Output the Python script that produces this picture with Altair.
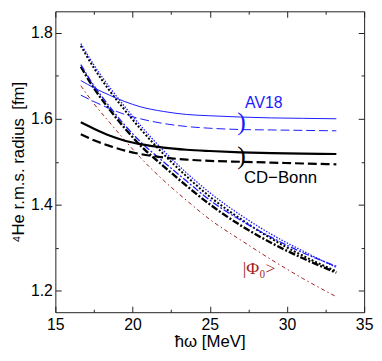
import altair as alt
import pandas as pd

# ---------------- data ----------------
hw = [16.65, 17.5, 18.5, 19.5, 20.5, 22.0, 23.5, 25.0, 27.0, 29.0, 31.0, 33.2]

av18_solid   = [1.689, 1.672, 1.655, 1.640, 1.628, 1.617, 1.610, 1.607, 1.604, 1.602, 1.601, 1.600]
av18_dashed  = [1.655, 1.640, 1.624, 1.610, 1.600, 1.589, 1.582, 1.578, 1.575, 1.574, 1.573, 1.572]
cdb_solid    = [1.592, 1.577, 1.561, 1.549, 1.541, 1.533, 1.528, 1.525, 1.522, 1.520, 1.519, 1.518]
cdb_dashed   = [1.564, 1.550, 1.537, 1.526, 1.518, 1.510, 1.505, 1.502, 1.500, 1.498, 1.496, 1.494]
cdb_dotted   = [1.770, 1.718, 1.666, 1.620, 1.577, 1.518, 1.466, 1.419, 1.367, 1.321, 1.282, 1.245]
av18_dotted  = [1.775, 1.725, 1.674, 1.628, 1.585, 1.526, 1.474, 1.428, 1.376, 1.331, 1.293, 1.254]
cdb_dashdot  = [1.721, 1.671, 1.622, 1.578, 1.538, 1.490, 1.444, 1.401, 1.352, 1.311, 1.276, 1.242]
av18_dashdot = [1.726, 1.677, 1.629, 1.585, 1.547, 1.500, 1.455, 1.411, 1.364, 1.324, 1.289, 1.257]
phi0         = [1.677, 1.635, 1.592, 1.550, 1.510, 1.457, 1.410, 1.366, 1.318, 1.272, 1.229, 1.186]

x_major = [15, 20, 25, 30, 35]
x_all_ticks = [15, 17.5, 20, 22.5, 25, 27.5, 30, 32.5, 35]
y_major = [1.2, 1.4, 1.6, 1.8]
y_all_ticks = [1.2, 1.3, 1.4, 1.5, 1.6, 1.7, 1.8]

labels_text = ["AV18", "CD\u2212Bonn", "|\u03a6\u2080>"]
labels_x = [28.5, 29.58, 28.2]
labels_y = [1.6354, 1.4626, 1.250]

bracket_x = [27.05, 27.05]
bracket_y = [1.592, 1.513]

# ---------------- styles ----------------
BLUE = "#1a1aff"
RED = "#a01c1c"
BLACK = "#000000"
W, H = 313, 305
FONT = "Liberation Sans"

# (values, color, dash, width) in drawing order
series = [
    (phi0, RED, [4, 3, 1.5, 3], 1.0),
    (cdb_dotted, BLACK, [2, 2], 2.0),
    (av18_dotted, BLUE, [1.5, 1.5], 1.3),
    (cdb_dashdot, BLACK, [7, 2, 2, 2], 2.4),
    (av18_dashdot, BLUE, [7, 2, 2, 2], 1.3),
    (cdb_solid, BLACK, None, 2.2),
    (cdb_dashed, BLACK, [9, 4], 2.2),
    (av18_solid, BLUE, None, 1.0),
    (av18_dashed, BLUE, [9, 4], 1.0),
]

xscale = alt.Scale(domain=[15, 35], nice=False, zero=False)
yscale = alt.Scale(domain=[1.15, 1.85], nice=False, zero=False)

x_main = alt.Axis(orient="bottom", values=x_major, ticks=False, tickSize=0, domain=False,
                  grid=False, labelFontSize=16, labelPadding=5, labelFlush=False,
                  labelFont=FONT, labelColor="black", title="\u0127\u03c9 [MeV]",
                  titleFont=FONT, titleFontSize=17, titleFontWeight="normal",
                  titleColor="black", titlePadding=1, format="d")
y_main = alt.Axis(orient="left", values=y_major, ticks=False, tickSize=0, domain=False,
                  grid=False, labelFontSize=16, labelPadding=3, labelFlush=False,
                  labelFont=FONT, labelColor="black", format=".1f",
                  title="\u2074He r.m.s. radius\u2002[fm]", titleFont=FONT,
                  titleFontSize=17, titleFontWeight="normal", titleColor="black",
                  titlePadding=3)

xtick_cond = {"condition": {"test": "datum.value % 5 === 0", "value": 6}, "value": 3}
ytick_cond = {"condition": {"test": "round(datum.value * 10) % 2 === 0", "value": 6}, "value": 3}


def tick_axis(orient, offset, values, cond):
    return alt.Axis(orient=orient, offset=offset, values=values, labels=False, domain=False,
                    grid=False, title="", ticks=True, tickColor="#222222", tickWidth=1,
                    tickSize=cond)


layers = []
for i, (vals, col, dash, wid) in enumerate(series):
    d = pd.DataFrame({"hw": hw, "r": vals})
    kw = dict(interpolate="monotone", color=col, strokeWidth=wid)
    if dash is not None:
        kw["strokeDash"] = dash
    if i == 0:
        xa, ya = x_main, y_main
    else:
        xa, ya = None, None
    layers.append(alt.Chart(d).mark_line(**kw).encode(
        x=alt.X("hw:Q", scale=xscale, axis=xa),
        y=alt.Y("r:Q", scale=yscale, axis=ya),
    ))

lab_df = pd.DataFrame({"x": labels_x, "y": labels_y, "t": labels_text})

av18_text = alt.Chart(lab_df.iloc[[0]]).mark_text(
    color=BLUE, fontSize=16, font=FONT, align="center", baseline="middle"
).encode(
    x=alt.X("x:Q", scale=xscale, axis=tick_axis("top", -H, x_all_ticks, xtick_cond)),
    y=alt.Y("y:Q", scale=yscale, axis=tick_axis("right", -W, y_all_ticks, ytick_cond)),
    text="t:N",
)

cdb_text = alt.Chart(lab_df.iloc[[1]]).mark_text(
    color=BLACK, fontSize=17, font=FONT, align="center", baseline="middle"
).encode(
    x=alt.X("x:Q", scale=xscale, axis=tick_axis("bottom", -H, x_all_ticks, xtick_cond)),
    y=alt.Y("y:Q", scale=yscale, axis=tick_axis("left", -W, y_all_ticks, ytick_cond)),
    text="t:N",
)

phi_text = alt.Chart(lab_df.iloc[[2]]).mark_text(
    color=RED, fontSize=18, font="Liberation Serif", align="center", baseline="middle"
).encode(
    x=alt.X("x:Q", scale=xscale, axis=None),
    y=alt.Y("y:Q", scale=yscale, axis=None),
    text="t:N",
)

br_blue = alt.Chart(pd.DataFrame({"x": [bracket_x[0]], "y": [bracket_y[0]], "t": [")"]})).mark_text(
    fontSize=26, font="Liberation Serif", align="center", baseline="middle", color=BLUE
).encode(
    x=alt.X("x:Q", scale=xscale, axis=None),
    y=alt.Y("y:Q", scale=yscale, axis=None),
    text="t:N",
)
br_black = alt.Chart(pd.DataFrame({"x": [bracket_x[1]], "y": [bracket_y[1]], "t": [")"]})).mark_text(
    fontSize=26, font="Liberation Serif", align="center", baseline="middle", color=BLACK
).encode(
    x=alt.X("x:Q", scale=xscale, axis=None),
    y=alt.Y("y:Q", scale=yscale, axis=None),
    text="t:N",
)

chart = alt.layer(*layers, av18_text, cdb_text, phi_text, br_blue, br_black).resolve_axis(
    x="independent", y="independent"
).properties(
    width=W, height=H,
    autosize=alt.AutoSizeParams(type="none"),
    padding={"left": 48, "top": 1, "right": 10, "bottom": 39},
    background="white",
).configure_view(stroke="#222222", strokeWidth=1)

chart.save("out.html", embed_options={"renderer": "svg", "actions": False})
